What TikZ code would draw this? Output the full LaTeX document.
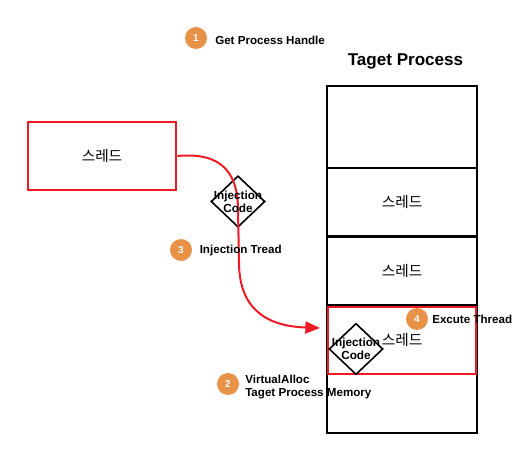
\documentclass[tikz,border=0pt]{standalone}
\usepackage{fontspec}
\setmainfont{Liberation Sans}
\newfontfamily\krfont{Noto Sans CJK KR}
\usetikzlibrary{arrows.meta,calc,positioning,shapes.geometric}
\definecolor{boxred}{RGB}{237,28,36}
\definecolor{badgeorange}{RGB}{232,146,72}
\newcommand{\threadlabel}{\raisebox{-4.5pt}[0pt][0pt]{스레드}}
\tikzset{
  threadbox/.style={draw=black,line width=1.7pt,minimum width=112pt,minimum height=51pt,inner sep=0pt,font=\krfont\fontsize{11}{13}\selectfont},
  redbox/.style={draw=boxred,line width=1.5pt,inner sep=0pt},
  codediamond/.style={diamond,draw=black,line width=1.2pt,inner sep=0pt,minimum width=40.5pt,minimum height=38.5pt,align=center},
  codetext/.style={align=center,inner sep=0pt,font=\fontsize{8.8}{9.6}\selectfont\bfseries},
  badge/.style={circle,fill=badgeorange,text=white,inner sep=0pt,minimum size=16.5pt,font=\fontsize{7.5}{8}\selectfont\bfseries},
  steptext/.style={anchor=west,align=left,inner sep=0pt,font=\fontsize{8.7}{9.8}\selectfont\bfseries},
  injectarrow/.style={-{Triangle[length=11pt,width=9pt]},draw=boxred,line width=1.5pt}
}
\begin{document}
\begin{tikzpicture}[x=0.75pt,y=-0.75pt]
  \useasboundingbox (0,0) rectangle (525,449);
  % target process
  \node[font=\fontsize{12.8}{15}\selectfont\bfseries] (title) at (405.5,61.5){Taget Process};
  \node[draw=black,line width=1.5pt,minimum width=112pt,minimum height=260.5pt,inner sep=0pt] (process) at (402,259.5){};
  \node[threadbox] (threadA) at (402,202){\threadlabel};
  \node[threadbox] (threadB) at (402,271){\threadlabel};
  \node[threadbox,minimum height=51.4pt] (threadC) at (402,339.75){\threadlabel};
  \node[redbox,minimum width=111pt,minimum height=50.25pt] (current) at (402,340.5){};
  % source thread
  \node[redbox,minimum width=111.5pt,minimum height=50.5pt,font=\krfont\fontsize{11}{13}\selectfont] (source) at (102,156){\threadlabel};
  % injection code
  \node[codediamond] (codeA) at (238,201.5){};
  \node[codediamond] (codeB) at (356,349){};
  \coordinate (arrowEnd) at (320,328);
  \draw[injectarrow] (source.east) .. controls (221,152) and (238,172) .. (238,210)
    -- (239,262) .. controls (239,305) and (262,326) .. (arrowEnd);
  \node[codetext] (codeAText) at (238,201.5){Injection\\Code};
  \node[codetext] (codeBText) at (356,349){Injection\\Code};
  % steps
  \node[badge] (one) at (196,38){1};
  \node[steptext] (oneText) at (215,40){Get Process Handle};
  \node[badge] (two) at (228,384){2};
  \node[steptext] (twoText) at (245,387){VirtualAlloc\\Taget Process Memory};
  \node[badge] (three) at (181,250){3};
  \node[steptext] (threeText) at (199.5,251){Injection Tread};
  \node[badge] (four) at (417,319){4};
  \node[steptext] (fourText) at (432,319.5){Excute Thread};
\end{tikzpicture}
\end{document}
